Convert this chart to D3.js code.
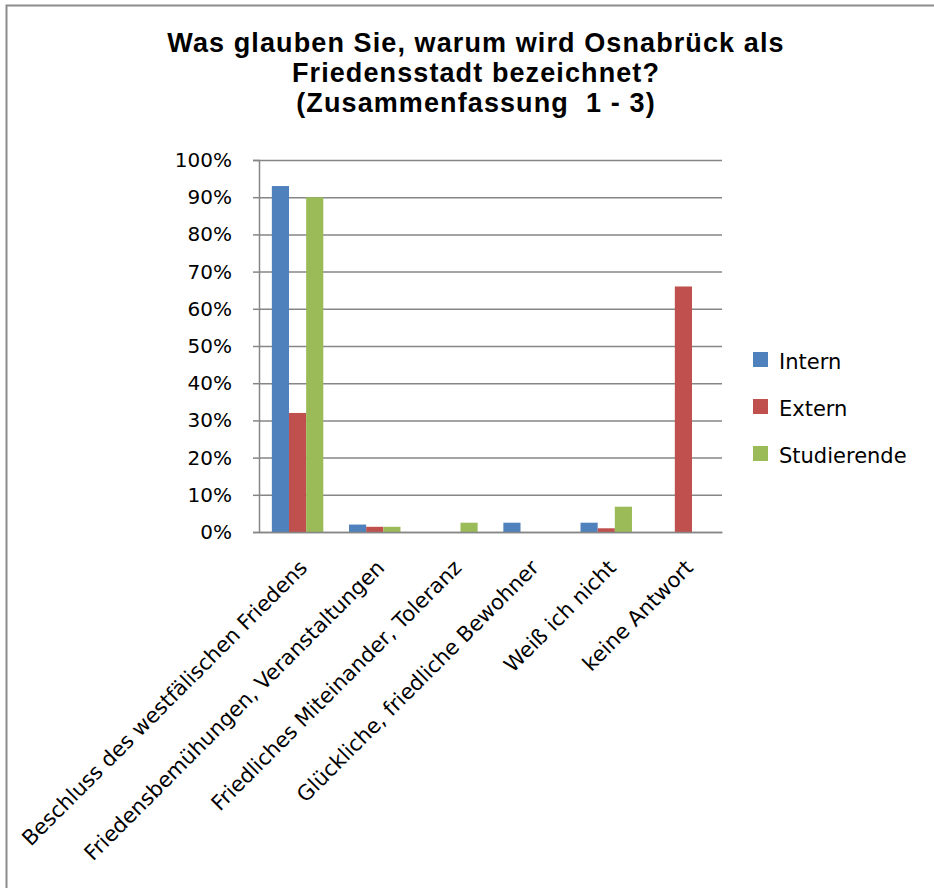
<!DOCTYPE html>
<html lang="de">
<head>
<meta charset="UTF-8">
<title>Friedensstadt</title>
<script src="https://d3js.org/d3.v7.min.js"></script>
<style>
    body { margin: 0; background: #ffffff; }
    svg text { font-family: "DejaVu Sans", sans-serif; fill: #000; }
</style>
</head>
<body>
<div id="chart"></div>
<script>

//data
var categories = [
    "Beschluss des westfälischen Friedens",
    "Friedensbemühungen, Veranstaltungen",
    "Friedliches Miteinander, Toleranz",
    "Glückliche, friedliche Bewohner",
    "Weiß ich nicht",
    "keine Antwort"
];
var seriesNames = ["Intern", "Extern", "Studierende"];
var intern      = [0.93, 0.02, 0,     0.025, 0.025, 0];
var extern      = [0.32, 0.014, 0,    0,     0.01,  0.66];
var studierende = [0.90, 0.014, 0.025, 0,    0.068, 0];
var yTicks = [0, 0.1, 0.2, 0.3, 0.4, 0.5, 0.6, 0.7, 0.8, 0.9, 1.0];
var colors = ["#4f81bd", "#c0504d", "#9bbb59"];
var titleLines = [
    "Was glauben Sie, warum wird Osnabrück als",
    "Friedensstadt bezeichnet?",
    "(Zusammenfassung  1 - 3)"
];

var W = 934, H = 888;
var margin = {top: 160, left: 259, right: 212, bottom: 356};
var width = W - margin.left - margin.right,
    height = H - margin.top - margin.bottom;

var svg = d3.select("#chart").append("svg")
    .attr("width", W)
    .attr("height", H);

// chart border
svg.append("rect")
    .attr("x", 6.5).attr("y", 5.5)
    .attr("width", 960).attr("height", 960)
    .attr("fill", "none")
    .attr("stroke", "#8c8c8c")
    .attr("stroke-width", 2);

// title
svg.append("text")
    .attr("text-anchor", "middle")
    .style("font-family", "'Liberation Sans', Arial, sans-serif")
    .style("font-weight", "bold")
    .style("font-size", "27px")
    .style("letter-spacing", "1.1px")
    .selectAll("tspan")
    .data(titleLines)
    .enter().append("tspan")
        .attr("x", 476)
        .attr("y", function(d, i) { return 52 + i * 30; })
        .style("white-space", "pre")
        .text(function(d) { return d; });

var g = svg.append("g")
    .attr("transform", "translate(" + margin.left + "," + margin.top + ")");

var y = d3.scaleLinear().domain([0, 1]).range([height, 0]);
var x0 = d3.scaleBand().domain(categories).range([0, width]).padding(0);
// bars take 3/4.5 of the band, gap of 1.5 bar widths
var barW = x0.bandwidth() / 4.5;
var x1 = d3.scaleBand().domain(seriesNames)
    .range([(x0.bandwidth() - 3 * barW) / 2, (x0.bandwidth() + 3 * barW) / 2]);

// gridlines
g.append("g")
    .call(d3.axisLeft(y).tickValues(yTicks).tickSize(-width).tickFormat(""))
    .call(function(s) {
        s.select(".domain").remove();
        s.selectAll("line").attr("stroke", "#868686").attr("stroke-width", 1.5);
    });

// y axis
g.append("g")
    .call(d3.axisLeft(y).tickValues(yTicks).tickSize(6).tickPadding(21)
        .tickFormat(d3.format(".0%")))
    .call(function(s) {
        s.select(".domain").attr("stroke", "#868686").attr("stroke-width", 1.5);
        s.selectAll("line").attr("stroke", "#868686").attr("stroke-width", 1.5);
        s.selectAll("text").style("font-size", "20px")
            .style("font-family", "'DejaVu Sans', sans-serif").attr("fill", "#000");
    });

// bars
var series = [intern, extern, studierende];
series.forEach(function(vals, si) {
    g.selectAll(".bar" + si)
        .data(vals)
        .enter().append("rect")
            .attr("x", function(d, i) { return x0(categories[i]) + x1(seriesNames[si]); })
            .attr("y", function(d) { return y(d); })
            .attr("width", x1.bandwidth())
            .attr("height", function(d) { return height - y(d); })
            .attr("fill", colors[si]);
});

// x axis
var xAxis = g.append("g")
    .attr("transform", "translate(0," + height + ")")
    .call(d3.axisBottom(x0).tickSize(0).tickPadding(0));
xAxis.select(".domain").attr("stroke", "#868686").attr("stroke-width", 1.5);
xAxis.selectAll("text")
    .style("font-size", "21px")
    .style("font-family", "'DejaVu Sans', sans-serif")
    .attr("fill", "#000")
    .attr("text-anchor", "end")
    .attr("y", 0)
    .attr("dy", 0)
    .attr("transform", "translate(11,37) rotate(-45)");

// legend
var legend = svg.append("g");
seriesNames.forEach(function(name, i) {
    var ly = 352 + i * 47;
    legend.append("rect")
        .attr("x", 753).attr("y", ly)
        .attr("width", 15).attr("height", 15)
        .attr("fill", colors[i]);
    legend.append("text")
        .attr("x", 779).attr("y", ly + 16.5)
        .style("font-size", "21px")
        .text(name);
});

</script>
</body>
</html>
